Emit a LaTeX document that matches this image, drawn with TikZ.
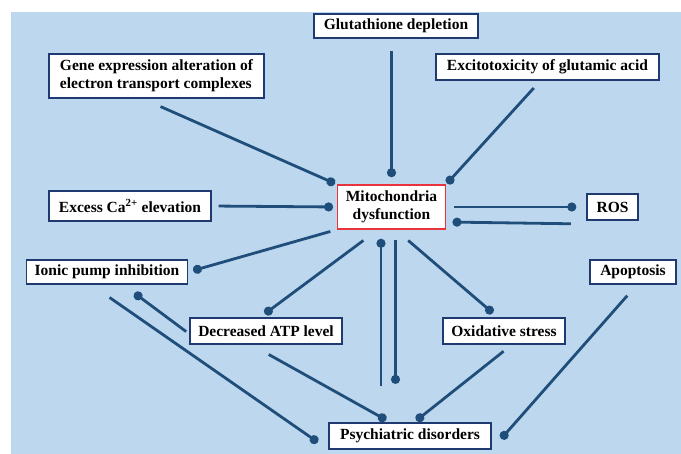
\documentclass[tikz,border=0pt]{standalone}
\usepackage{fontspec}
\setmainfont{Liberation Serif}
\usetikzlibrary{arrows.meta,calc}
\definecolor{bgblue}{HTML}{BDD7EE}
\definecolor{linkblue}{HTML}{1F4E7A}
\definecolor{boxline}{HTML}{1F3A70}
\definecolor{mitored}{HTML}{E8323C}
\tikzstyle{box}=[draw=boxline, line width=1.2pt, fill=white, font=\bfseries\fontsize{15.5}{18}\selectfont, inner sep=0pt]
\tikzstyle{dotarrow}=[draw=linkblue, line width=2.8pt, -{Circle[length=9pt]}]

\begin{document}
\begin{tikzpicture}[x=1pt,y=-1pt]

\useasboundingbox (0,0) rectangle (681,454);
\fill[bgblue] (11,12) rectangle (681,454);

\node[box, minimum width=164pt, minimum height=24pt] (glut) at (396,26) {Glutathione depletion};
\node[box, minimum width=215pt, minimum height=44pt, align=left] (gene) at (156.5,76) {Gene expression alteration of\\electron transport complexes};
\node[box, minimum width=223pt, minimum height=26pt] (excit) at (547.5,67) {Excitotoxicity of glutamic acid};
\node[box, minimum width=162pt, minimum height=30pt] (calcium) at (130,206) {Excess Ca\textsuperscript{2+} elevation};
\node[box, draw=mitored, minimum width=108pt, minimum height=44pt, align=center] (mito) at (391.5,207) {Mitochondria\\dysfunction};
\node[box, minimum width=51pt, minimum height=26pt] (ros) at (612.5,207) {ROS};
\node[box, minimum width=161pt, minimum height=24pt] (ionic) at (107,272) {Ionic pump inhibition};
\node[box, minimum width=86pt, minimum height=24pt] (apop) at (633,272) {Apoptosis};
\node[box, minimum width=152pt, minimum height=26pt] (atp) at (266,331) {Decreased ATP level};
\node[box, minimum width=122pt, minimum height=26pt] (oxid) at (504,331) {Oxidative stress};
\node[box, minimum width=162pt, minimum height=26pt] (psych) at (410,436) {Psychiatric disorders};

\coordinate (upx) at ([xshift=-10.5pt]mito.south);
\coordinate (downx) at ([xshift=4pt]mito.south);

\draw[dotarrow, shorten <=19.7pt, shorten >=2pt] ([xshift=-14pt]gene.south) -- (mito.north west);
\draw[dotarrow, shorten <=12.7pt, shorten >=7.2pt] (mito.north |- glut.south) -- (mito.north);
\draw[dotarrow, shorten <=10pt, shorten >=1.3pt] ([xshift=-7pt]excit.south) -- (mito.north east);
\draw[dotarrow, shorten <=7pt, shorten >=3.8pt] (calcium.east) -- (mito.west);
\draw[dotarrow, shorten <=8.3pt, shorten >=10.1pt] (mito.east) -- (ros.west);
\draw[dotarrow, shorten <=15.5pt, shorten >=6.4pt] ([yshift=-17pt]ros.west) -- ([yshift=-15pt]mito.east);
\draw[dotarrow, shorten <=6.8pt, shorten >=5.2pt] (mito.south west) -- (ionic.east);
\draw[dotarrow, shorten <=18.2pt, shorten >=6pt] ([xshift=-13.5pt]mito.south) -- ([xshift=-6pt]atp.north);
\draw[dotarrow, shorten <=36pt, shorten >=9.2pt] (psych.north -| upx) -- (upx);
\draw[dotarrow, shorten <=10pt, shorten >=38.5pt] (downx) -- (psych.north -| downx);
\draw[dotarrow, shorten <=16.7pt, shorten >=6.7pt] ([xshift=4pt]mito.south) -- ([xshift=-6pt]oxid.north);
\draw[dotarrow, shorten <=4pt, shorten >=14.3pt] ([yshift=-3pt]atp.west) -- ([xshift=16pt]ionic.south);
\draw[dotarrow, shorten <=22.6pt, shorten >=12.9pt] ([xshift=-16pt]ionic.south) -- (psych.south west);
\draw[dotarrow, shorten <=20.3pt, shorten >=5pt] ([xshift=-15pt]atp.south) -- ([xshift=-19.5pt]psych.north);
\draw[dotarrow, shorten <=10.7pt, shorten >=3pt] ([xshift=8pt]oxid.south) -- ([xshift=4pt]psych.north);
\draw[dotarrow, shorten <=14.7pt, shorten >=14.5pt] ([xshift=4pt]apop.south) -- (psych.south east);

\end{tikzpicture}
\end{document}
